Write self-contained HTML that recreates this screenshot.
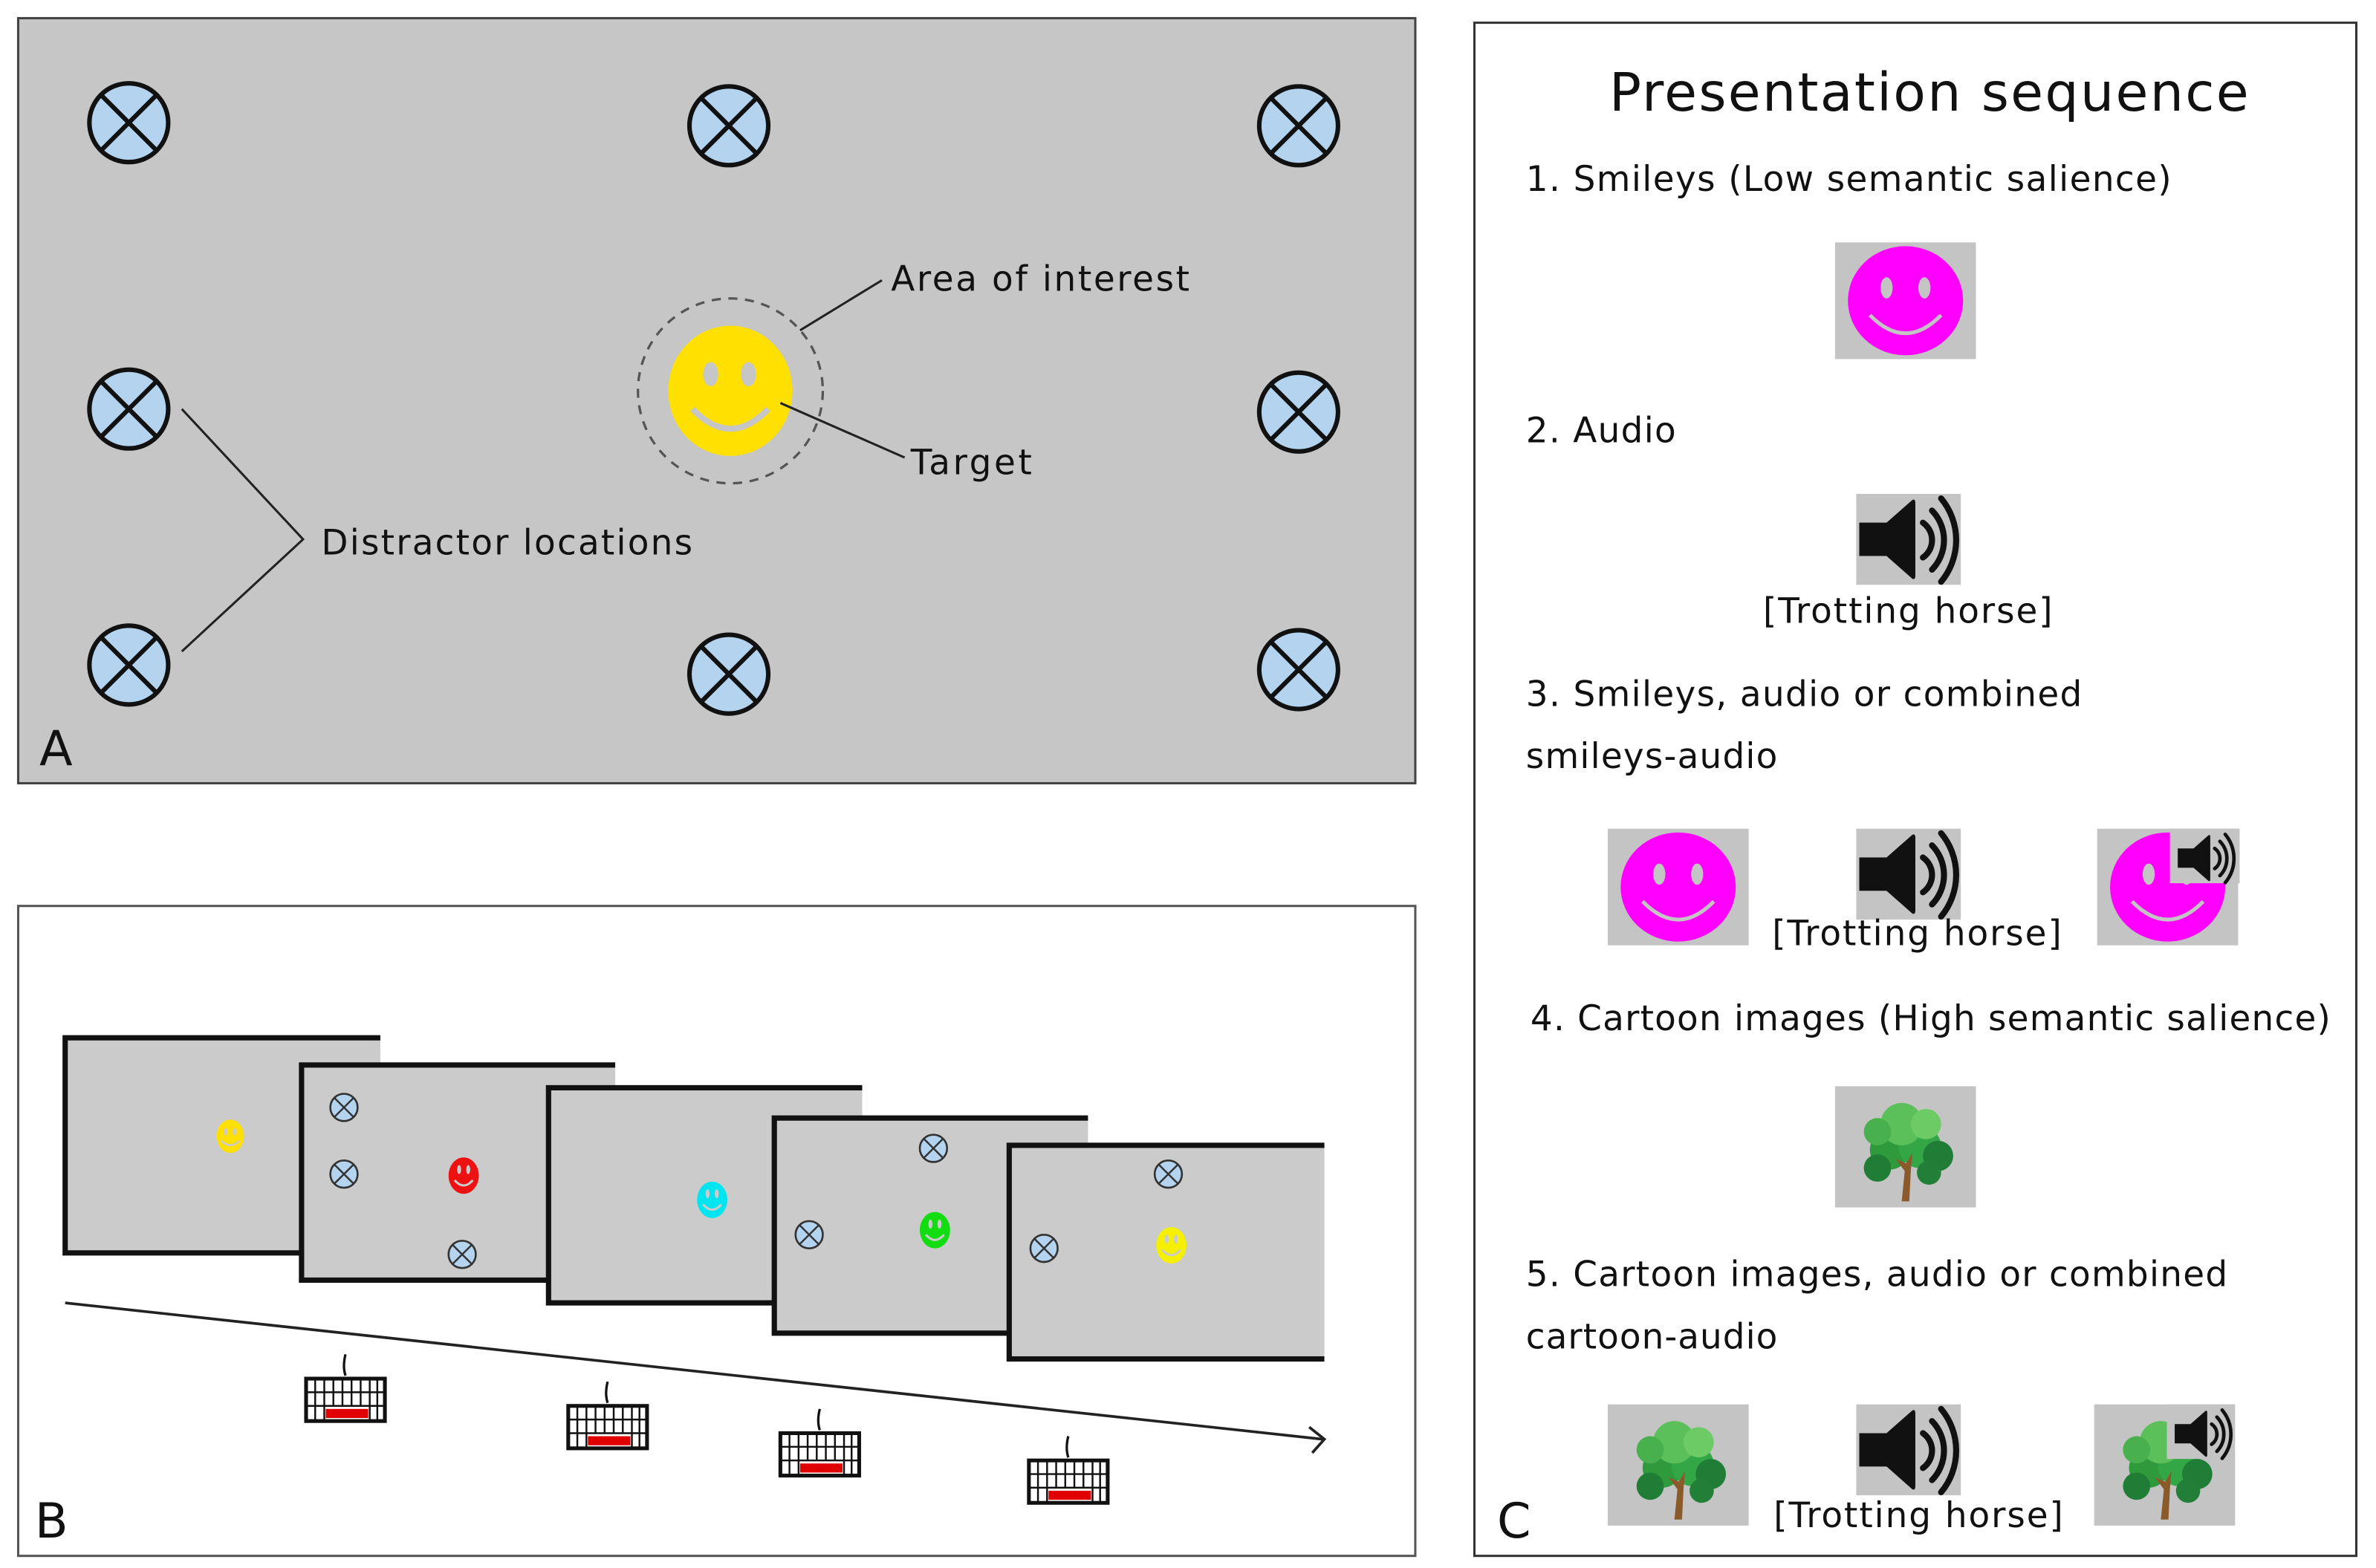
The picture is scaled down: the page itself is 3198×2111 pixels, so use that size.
<!DOCTYPE html>
<html><head><meta charset="utf-8"><style>
html,body{margin:0;padding:0;background:#fff;}
svg{display:block;}
text{font-family:"DejaVu Sans","Liberation Sans",sans-serif;fill:#111;}
</style></head><body>
<svg width="3198" height="2111" viewBox="0 0 1568 1035" preserveAspectRatio="none" xmlns="http://www.w3.org/2000/svg">
<defs>
  <g id="dx">
    <circle cx="0" cy="0" r="26" fill="#b4d3ef" stroke="#111" stroke-width="3"/>
    <line x1="-18.4" y1="-18.4" x2="18.4" y2="18.4" stroke="#111" stroke-width="3"/>
    <line x1="18.4" y1="-18.4" x2="-18.4" y2="18.4" stroke="#111" stroke-width="3"/>
  </g>
  <g id="sdx">
    <circle cx="0" cy="0" r="9" fill="#b4d3ef" stroke="#333" stroke-width="1.3"/>
    <line x1="-6.3" y1="-6.3" x2="6.3" y2="6.3" stroke="#333" stroke-width="1.2"/>
    <line x1="6.3" y1="-6.3" x2="-6.3" y2="6.3" stroke="#333" stroke-width="1.2"/>
  </g>
  <g id="spkicon">
    <path d="M2 19 H20 L37 4 Q39 3 39 6 V54 Q39 57 37 56 L20 41 H2 Z" fill="#111"/>
    <path d="M44 19 A14 14 0 0 1 44 42" fill="none" stroke="#111" stroke-width="4" stroke-linecap="round"/>
    <path d="M50 11 A28 28 0 0 1 50 50" fill="none" stroke="#111" stroke-width="4" stroke-linecap="round"/>
    <path d="M56 3 A43 43 0 0 1 56 58" fill="none" stroke="#111" stroke-width="4" stroke-linecap="round"/>
  </g>
  <g id="spk">
    <rect x="0" y="0" width="69" height="60" fill="#c4c4c4"/>
    <use href="#spkicon"/>
  </g>
  <g id="smile">
    <rect x="0" y="0" width="93" height="77" fill="#c4c4c4"/>
    <ellipse cx="46.5" cy="38.5" rx="38" ry="36" fill="#ff00ff"/>
    <ellipse cx="34" cy="30" rx="4" ry="7" fill="#c4c4c4"/>
    <ellipse cx="59" cy="30" rx="4" ry="7" fill="#c4c4c4"/>
    <path d="M23 48 Q46.5 72 70 48" fill="none" stroke="#c4c4c4" stroke-width="2.5"/>
  </g>
  <g id="tree">
    <rect x="0" y="0" width="93" height="80" fill="#c4c4c4"/>
    <circle cx="36" cy="42" r="13" fill="#2f9a3c"/>
    <circle cx="56" cy="40" r="14" fill="#33a646"/>
    <circle cx="44" cy="25" r="14" fill="#5cc05a"/>
    <circle cx="60" cy="25" r="10" fill="#6ccb64"/>
    <circle cx="28" cy="30" r="9" fill="#48b04c"/>
    <circle cx="68" cy="46" r="10" fill="#1f7d35"/>
    <circle cx="28" cy="54" r="9" fill="#1f7d35"/>
    <circle cx="62" cy="57" r="8" fill="#227f37"/>
    <path d="M44 76 L46 56 L40 48 L47 51 L51 44 L50 56 L49 76 Z" fill="#8b5a2b"/>
  </g>
  <g id="kb">
    <path d="M26 -16 Q24 -8 26 -2" fill="none" stroke="#111" stroke-width="1.6"/>
    <rect x="0" y="0" width="52" height="28" fill="#fff" stroke="#111" stroke-width="2.5"/>
    <g stroke="#111" stroke-width="1.2">
      <line x1="0" y1="9" x2="52" y2="9"/><line x1="0" y1="18" x2="52" y2="18"/>
      <line x1="6" y1="0" x2="6" y2="28"/><line x1="12" y1="0" x2="12" y2="28"/>
      <line x1="18" y1="0" x2="18" y2="18"/><line x1="24" y1="0" x2="24" y2="18"/>
      <line x1="30" y1="0" x2="30" y2="18"/><line x1="36" y1="0" x2="36" y2="18"/>
      <line x1="42" y1="0" x2="42" y2="28"/><line x1="47" y1="0" x2="47" y2="28"/>
    </g>
    <rect x="13" y="20" width="28" height="6" fill="#e00000"/>
  </g>
</defs>

<!-- Panel A -->
<rect x="12" y="12" width="922" height="505" fill="#c6c6c6" stroke="#444" stroke-width="1.5"/>
<use href="#dx" x="85" y="81"/><use href="#dx" x="481" y="83"/><use href="#dx" x="857" y="83"/>
<use href="#dx" x="85" y="270"/><use href="#dx" x="857" y="272"/>
<use href="#dx" x="85" y="439"/><use href="#dx" x="481" y="445"/><use href="#dx" x="857" y="442"/>
<circle cx="482" cy="258" r="61" fill="none" stroke="#555" stroke-width="1.6" stroke-dasharray="6,5"/>
<ellipse cx="482" cy="258" rx="41" ry="43" fill="#ffe000"/>
<ellipse cx="469" cy="247" rx="5" ry="8" fill="#c6c6c6"/>
<ellipse cx="494" cy="247" rx="5" ry="8" fill="#c6c6c6"/>
<path d="M457 270 Q482 296 507 270" fill="none" stroke="#c6c6c6" stroke-width="4"/>
<line x1="528" y1="218" x2="582" y2="185" stroke="#222" stroke-width="1.5"/>
<text x="588" y="192" font-size="23" textLength="197">Area of interest</text>
<line x1="515" y1="266" x2="597" y2="302" stroke="#222" stroke-width="1.5"/>
<text x="601" y="313" font-size="23" textLength="80">Target</text>
<polyline points="120,270 200,356 120,430" fill="none" stroke="#222" stroke-width="1.5"/>
<text x="212" y="366" font-size="23" textLength="245">Distractor locations</text>
<text x="26" y="505" font-size="32">A</text>

<!-- Panel B -->
<rect x="12" y="598" width="922" height="429" fill="#fff" stroke="#555" stroke-width="1.5"/>
<g stroke="#111" stroke-width="3.5">
  <rect x="43" y="685" width="208" height="142" fill="#cbcbcb" stroke="none"/>
  <polyline points="251,685 43,685 43,827 251,827" fill="none"/>
  <rect x="199" y="703" width="207" height="142" fill="#cbcbcb" stroke="none"/>
  <polyline points="406,703 199,703 199,845 406,845" fill="none"/>
  <rect x="362" y="718" width="207" height="142" fill="#cbcbcb" stroke="none"/>
  <polyline points="569,718 362,718 362,860 569,860" fill="none"/>
  <rect x="511" y="738" width="207" height="142" fill="#cbcbcb" stroke="none"/>
  <polyline points="718,738 511,738 511,880 718,880" fill="none"/>
  <rect x="666" y="756" width="208" height="141" fill="#cbcbcb" stroke="none"/>
  <polyline points="874,756 666,756 666,897 874,897" fill="none"/>
</g>
<g>
  <ellipse cx="152" cy="750" rx="9" ry="11" fill="#ffe000"/>
  <ellipse cx="306" cy="776" rx="10" ry="12" fill="#ee1111"/>
  <ellipse cx="470" cy="792" rx="10" ry="12" fill="#00e5f0"/>
  <ellipse cx="617" cy="812" rx="10" ry="12" fill="#11dd11"/>
  <ellipse cx="773" cy="822" rx="10" ry="12" fill="#f5f000"/>
</g>
<g fill="#cbcbcb" stroke="#cbcbcb">
  <ellipse cx="149" cy="747" rx="1.2" ry="2.5" stroke="none"/><ellipse cx="155" cy="747" rx="1.2" ry="2.5" stroke="none"/>
  <path d="M146 753 Q152 759 158 753" fill="none" stroke-width="1.3"/>
  <ellipse cx="303" cy="772" rx="1.3" ry="3" stroke="none"/><ellipse cx="309" cy="772" rx="1.3" ry="3" stroke="none"/>
  <path d="M300 779 Q306 786 312 779" fill="none" stroke-width="1.5"/>
  <ellipse cx="467" cy="788" rx="1.3" ry="3" stroke="none"/><ellipse cx="473" cy="788" rx="1.3" ry="3" stroke="none"/>
  <path d="M464 795 Q470 802 476 795" fill="none" stroke-width="1.5"/>
  <ellipse cx="614" cy="808" rx="1.3" ry="3" stroke="none"/><ellipse cx="620" cy="808" rx="1.3" ry="3" stroke="none"/>
  <path d="M611 815 Q617 822 623 815" fill="none" stroke-width="1.5"/>
  <ellipse cx="770" cy="818" rx="1.3" ry="3" stroke="none"/><ellipse cx="776" cy="818" rx="1.3" ry="3" stroke="none"/>
  <path d="M767 825 Q773 832 779 825" fill="none" stroke-width="1.5"/>
</g>
<use href="#sdx" x="227" y="731"/><use href="#sdx" x="227" y="775"/><use href="#sdx" x="305" y="828"/>
<use href="#sdx" x="616" y="758"/><use href="#sdx" x="534" y="815"/>
<use href="#sdx" x="771" y="775"/><use href="#sdx" x="689" y="824"/>
<line x1="43" y1="860" x2="873" y2="950" stroke="#222" stroke-width="1.8"/>
<polyline points="864,942 874,950 866,959" fill="none" stroke="#222" stroke-width="1.8"/>
<use href="#kb" x="202" y="910"/><use href="#kb" x="375" y="928"/>
<use href="#kb" x="515" y="946"/><use href="#kb" x="679" y="964"/>
<text x="23" y="1015" font-size="32">B</text>

<!-- Panel C -->
<rect x="973" y="15" width="582" height="1012" fill="#fff" stroke="#333" stroke-width="1.5"/>
<text x="1273" y="73" font-size="35" text-anchor="middle" textLength="422">Presentation sequence</text>
<text x="1007" y="126" font-size="23" textLength="426">1. Smileys (Low semantic salience)</text>
<use href="#smile" x="1211" y="160"/>
<text x="1007" y="292" font-size="23" textLength="99">2. Audio</text>
<use href="#spk" x="1225" y="326"/>
<text x="1259" y="411" font-size="23" text-anchor="middle" textLength="191">[Trotting horse]</text>
<text x="1007" y="466" font-size="23" textLength="367">3. Smileys, audio or combined</text>
<text x="1007" y="507" font-size="23" textLength="166">smileys-audio</text>
<use href="#smile" x="1061" y="547"/>
<use href="#spk" x="1225" y="547"/>
<text x="1265" y="624" font-size="23" text-anchor="middle" textLength="191">[Trotting horse]</text>
<use href="#smile" x="1384" y="547"/>
<rect x="1432" y="547" width="46" height="36" fill="#c4c4c4"/>
<g transform="translate(1436,549) scale(0.58)"><use href="#spkicon"/></g>
<text x="1010" y="680" font-size="23" textLength="528">4. Cartoon images (High semantic salience)</text>
<use href="#tree" x="1211" y="717"/>
<text x="1007" y="849" font-size="23" textLength="463">5. Cartoon images, audio or combined</text>
<text x="1007" y="890" font-size="23" textLength="166">cartoon-audio</text>
<use href="#tree" x="1061" y="927"/>
<use href="#spk" x="1225" y="927"/>
<text x="1266" y="1008" font-size="23" text-anchor="middle" textLength="191">[Trotting horse]</text>
<use href="#tree" x="1382" y="927"/>
<rect x="1430" y="927" width="44" height="36" fill="#c4c4c4"/>
<g transform="translate(1434,929) scale(0.58)"><use href="#spkicon"/></g>
<text x="988" y="1015" font-size="32">C</text>
</svg>
</body></html>
